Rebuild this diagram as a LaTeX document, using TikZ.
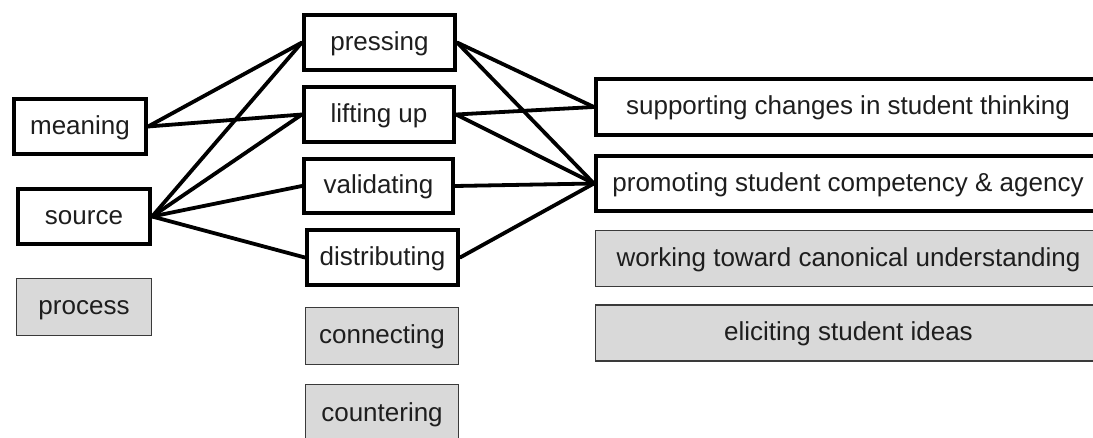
\documentclass[tikz,border=0pt]{standalone}
\usepackage{fontspec}
\setmainfont{Liberation Sans}
\definecolor{txt}{HTML}{1E1E1E}
\definecolor{grayfill}{HTML}{D9D9D9}
\definecolor{grayline}{HTML}{3A3A3A}
\begin{document}
\begin{tikzpicture}[x=1pt,y=-1pt,
  lbl/.style={text=txt,font=\fontsize{26}{30}\selectfont,text height=20pt,text depth=4pt},
  box/.style={lbl,draw=black,line width=4.2pt,fill=white,rectangle,inner sep=0pt},
  gbox/.style={lbl,draw=grayline,line width=1.6pt,fill=grayfill,rectangle,inner sep=0pt},
  link/.style={draw=black,line width=3.8pt,line cap=round}]
\useasboundingbox (0,0) rectangle (1093,438);
\begin{scope}
\clip (0,0) rectangle (1093,438);
% left column
\node[box,minimum width=132pt,minimum height=55pt] (meaning) at (80,126.5) {meaning};
\node[box,minimum width=132pt,minimum height=55pt] (source) at (84,216.5) {source};
\node[gbox,minimum width=135pt,minimum height=57pt] (process) at (84,307) {process};
% middle column
\node[box,minimum width=151pt,minimum height=55pt] (pressing) at (379.5,42.5) {pressing};
\node[box,minimum width=150pt,minimum height=55pt] (lifting) at (379,114.5) {lifting up};
\node[box,minimum width=149pt,minimum height=54pt] (validating) at (378.5,186) {validating};
\node[box,minimum width=151pt,minimum height=55pt] (distributing) at (382.5,257.5) {distributing};
\node[gbox,minimum width=153pt,minimum height=57pt] (connecting) at (382,336) {connecting};
\node[gbox,minimum width=153pt,minimum height=57pt] (countering) at (382,413) {countering};
% right column
\node[box,minimum width=504pt,minimum height=56pt] (supporting) at (848,107) {supporting changes in student thinking};
\node[box,minimum width=504pt,minimum height=55pt] (promoting) at (848,183.5) {promoting student competency \& agency};
\node[gbox,minimum width=506pt,minimum height=56pt] (working) at (848.5,258.5) {working toward canonical understanding};
\node[gbox,minimum width=506pt,minimum height=56pt] (eliciting) at (848.5,333) {eliciting student ideas};
% connectors
\draw[link] (meaning.east) -- (pressing.west);
\draw[link] (meaning.east) -- (lifting.west);
\draw[link] (source.east) -- (pressing.west);
\draw[link] (source.east) -- (lifting.west);
\draw[link] (source.east) -- (validating.west);
\draw[link] (source.east) -- (distributing.west);
\draw[link] (pressing.east) -- (supporting.west);
\draw[link] (pressing.east) -- (promoting.west);
\draw[link] (lifting.east) -- (supporting.west);
\draw[link] (lifting.east) -- (promoting.west);
\draw[link] (validating.east) -- (promoting.west);
\draw[link] (distributing.east) -- (promoting.west);
\end{scope}
\end{tikzpicture}
\end{document}
